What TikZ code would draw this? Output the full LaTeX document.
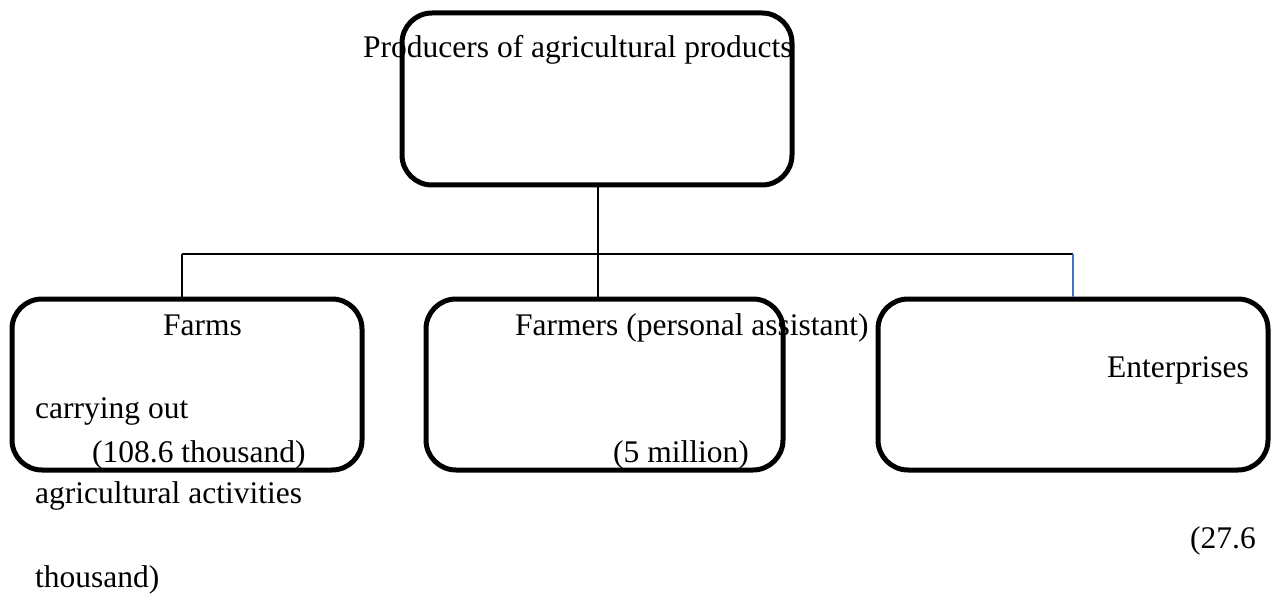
\documentclass[tikz,border=0pt]{standalone}
\usepackage{fontspec}
\setmainfont{Liberation Serif}
\definecolor{linkblue}{RGB}{68,114,196}
\begin{document}
\begin{tikzpicture}[x=1pt,y=-1pt,
  box/.style={draw=black,line width=5pt,rounded corners=30pt,minimum height=171pt,inner sep=0pt},
  conn/.style={draw=black,line width=1.5pt},
  txt/.style={anchor=base west,inner sep=0pt,font=\fontsize{31.5}{38}\selectfont}]
\useasboundingbox (0,0) rectangle (1275,596);
\node[box,minimum width=390pt,minimum height=172pt] (top) at (597,99) {};
\node[box,minimum width=350pt] (b1) at (187,384.5) {};
\node[box,minimum width=357pt] (b2) at (604.5,384.5) {};
\node[box,minimum width=390pt] (b3) at (1073,384.5) {};
\coordinate (j1) at (182,254);
\coordinate (j2) at (598,254);
\coordinate (j3) at (1073,254);
\draw[conn] (top.south -| j2) -- (j2 |- b2.north);
\draw[conn] (j1) -- (j3);
\draw[conn] (j1) -- (j1 |- b1.north);
\draw[line width=1.5pt,draw=linkblue] (j3) -- (j3 |- b3.north);
\node[txt] (t0) at (363,58) {Producers of agricultural products};
\node[txt] (t1) at (163,335) {Farms};
\node[txt] (t2) at (35,418) {carrying out};
\node[txt] (t3) at (92,462) {(108.6 thousand)};
\node[txt] (t4) at (35,503) {agricultural activities};
\node[txt] (t5) at (515,335) {Farmers (personal assistant)};
\node[txt] (t6) at (613,462) {(5 million)};
\node[txt] (t7) at (1107,377) {Enterprises};
\node[txt] (t8) at (1190,548) {(27.6};
\node[txt] (t9) at (35,587) {thousand)};
\end{tikzpicture}
\end{document}
